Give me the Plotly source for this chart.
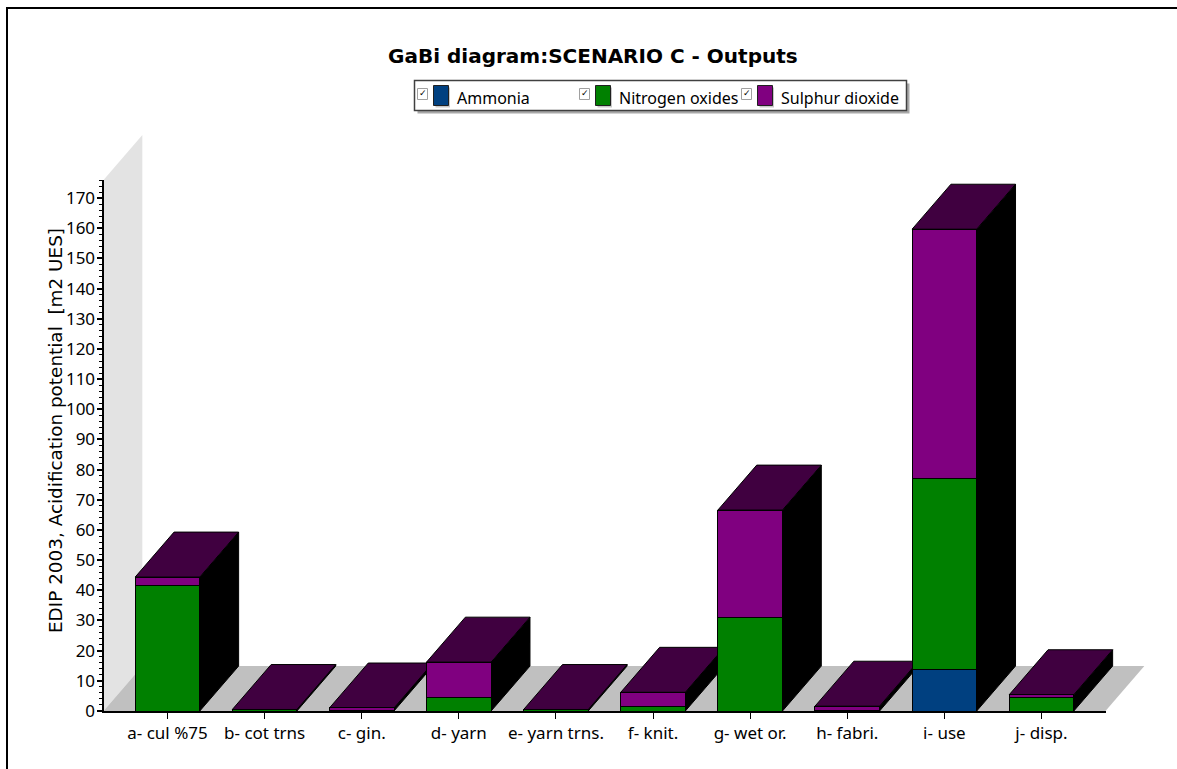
import plotly.graph_objects as go

# Stacked output contributions per life-cycle stage
categories = ["a- cul %75", "b- cot trns", "c- gin.", "d- yarn", "e- yarn trns.",
              "f- knit.", "g- wet or.", "h- fabri.", "i- use", "j- disp."]
ammonia = [0, 0, 0, 0, 0, 0, 0, 0, 13.6, 0]
nitrogen_oxides = [41.7, 0.4, 0.2, 4.6, 0.4, 1.5, 31.1, 0.2, 63.6, 4.5]
sulphur_dioxide = [2.7, 0.1, 0.8, 11.6, 0.1, 4.7, 35.5, 1.4, 82.5, 0.9]

series_names = ["Ammonia", "Nitrogen oxides", "Sulphur dioxide"]
series_colors = ["#004080", "#008000", "#800080"]
series_values = [ammonia, nitrogen_oxides, sulphur_dioxide]

W, H = 1177, 769
PLOT_L, PLOT_R, PLOT_T, PLOT_B = 103.5, 1105.5, 180.0, 711.0
Y_MAX = 176.0
X_MIN, X_MAX = -0.659, 9.659
BAR_WIDTH = 0.665
DEPTH_X = 0.40     # oblique depth along the category axis
DEPTH_Y = 14.9     # oblique depth along the value axis
TOP_COLOR = "#400040"
LABEL_FONT = "Noto Sans"

# The rear faces live on a larger hidden subplot with the same scale as the
# visible one, so the oblique box can run past the visible axis ends.
X_SCALE = (PLOT_R - PLOT_L) / (X_MAX - X_MIN)
Y_SCALE = (PLOT_B - PLOT_T) / Y_MAX
BACK_R, BACK_T = float(W), 100.0
BACK_X_MAX = X_MIN + (BACK_R - PLOT_L) / X_SCALE
BACK_Y_MAX = (PLOT_B - BACK_T) / Y_SCALE


def px(x):
    return x / W


def py(y):
    return 1 - y / H


def polygon(xs, ys, color, line_width=1.0, line_color="black"):
    return go.Scatter(
        x=xs + xs[:1], y=ys + ys[:1], mode="lines", fill="toself", fillcolor=color,
        line=dict(color=line_color, width=line_width), hoverinfo="skip",
        showlegend=False, xaxis="x", yaxis="y",
    )


fig = go.Figure()

# Back wall and floor of the oblique box
fig.add_trace(polygon([X_MIN, X_MIN + DEPTH_X, X_MIN + DEPTH_X, X_MIN],
                      [0, DEPTH_Y, Y_MAX + DEPTH_Y, Y_MAX], "#e3e3e3", 0, "#e3e3e3"))
fig.add_trace(polygon([X_MIN, X_MIN + DEPTH_X, X_MAX + DEPTH_X, X_MAX],
                      [0, DEPTH_Y, DEPTH_Y, 0], "#c0c0c0", 0, "#c0c0c0"))

# Side and top faces, left to right so nearer columns overlap earlier ones
for i in range(len(categories)):
    total = ammonia[i] + nitrogen_oxides[i] + sulphur_dioxide[i]
    right = i + BAR_WIDTH / 2
    left = i - BAR_WIDTH / 2
    fig.add_trace(polygon([right, right + DEPTH_X, right + DEPTH_X, right],
                          [0, DEPTH_Y, total + DEPTH_Y, total], "black"))
    fig.add_trace(polygon([left, left + DEPTH_X, right + DEPTH_X, right],
                          [total, total + DEPTH_Y, total + DEPTH_Y, total], TOP_COLOR))

# Front faces on the visible subplot, stacked above every side face
for name, color, values in zip(series_names, series_colors, series_values):
    fig.add_trace(go.Bar(
        x=list(range(len(categories))), y=values, name=name, width=BAR_WIDTH,
        marker=dict(color=color, line=dict(color="black", width=1)),
        xaxis="x2", yaxis="y2", showlegend=False,
    ))

# Legend box built from swatches, check boxes and labels
shapes = []
annotations = []
LEG_L, LEG_R, LEG_T, LEG_B = 414.5, 906.5, 80.5, 110.5


def paper_rect(x0, y0, x1, y1, fill, line=None, lw=1):
    shapes.append(dict(type="rect", xref="paper", yref="paper",
                       x0=px(x0), x1=px(x1), y0=py(y0), y1=py(y1), fillcolor=fill,
                       line=dict(color=line or fill, width=lw if line else 0), layer="above"))


paper_rect(LEG_L + 3, LEG_T + 3, LEG_R + 3, LEG_B + 3, "#a8a8a8")
paper_rect(LEG_L, LEG_T, LEG_R, LEG_B, "white", "#404040", 1.5)
for name, color, x_box in zip(series_names, series_colors, [417, 579, 741]):
    paper_rect(x_box + 0.5, 88.5, x_box + 10.5, 99.5, "white", "#a0a0a0", 1)
    annotations.append(dict(text="<b>✓</b>", x=px(x_box + 5.5), y=py(93.5), xref="paper", yref="paper",
                            showarrow=False, xanchor="center", yanchor="middle",
                            font=dict(size=9, color="black", family="DejaVu Sans")))
    paper_rect(x_box + 18.5, 87.5, x_box + 33, 107.5, "#c8c8c8")
    paper_rect(x_box + 16.5, 85.5, x_box + 31.5, 105.5, color, "#202020", 1)
    annotations.append(dict(text=name, x=px(x_box + 37.5), y=py(97.5), xref="paper", yref="paper",
                            showarrow=False, xanchor="left", yanchor="middle",
                            font=dict(size=16, color="black", family=LABEL_FONT)))

# Outer frame: left and top edges only
shapes.append(dict(type="line", xref="paper", yref="paper", x0=px(7), x1=px(7), y0=py(8), y1=0,
                   line=dict(color="black", width=2), layer="above"))
shapes.append(dict(type="line", xref="paper", yref="paper", x0=px(6), x1=1, y0=py(8), y1=py(8),
                   line=dict(color="black", width=2), layer="above"))

annotations.append(dict(text="GaBi diagram:SCENARIO C - Outputs", x=px(592.5), y=py(56),
                        xref="paper", yref="paper", showarrow=False,
                        xanchor="center", yanchor="middle",
                        font=dict(size=20, color="black", family="DejaVu Sans", weight="bold")))
annotations.append(dict(text="EDIP 2003, Acidification potential\u00a0 [m2 UES]", x=px(55), y=py(431),
                        xref="paper", yref="paper", showarrow=False, textangle=-90,
                        xanchor="center", yanchor="middle",
                        font=dict(size=18.4, color="black", family="DejaVu Sans")))

tick_font = dict(size=17, color="black", family=LABEL_FONT)

fig.update_layout(
    width=W, height=H, margin=dict(l=0, r=0, t=0, b=0, pad=0, autoexpand=False),
    paper_bgcolor="white", plot_bgcolor="rgba(0,0,0,0)", barmode="stack", showlegend=False,
    shapes=shapes, annotations=annotations,
    xaxis=dict(domain=[px(PLOT_L), px(BACK_R)], range=[X_MIN, BACK_X_MAX], visible=False,
               fixedrange=True, anchor="y"),
    yaxis=dict(domain=[py(PLOT_B), py(BACK_T)], range=[0, BACK_Y_MAX], visible=False,
               fixedrange=True, anchor="x"),
    xaxis2=dict(domain=[px(PLOT_L), px(PLOT_R)], range=[X_MIN, X_MAX], anchor="y2", side="bottom",
                tickmode="array", tickvals=list(range(len(categories))), ticktext=categories,
                ticks="outside", ticklen=6, tickwidth=1, tickcolor="black",
                showline=True, linecolor="black", linewidth=2, showgrid=False, zeroline=False,
                tickfont=tick_font, fixedrange=True),
    yaxis2=dict(domain=[py(PLOT_B), py(PLOT_T)], range=[0, Y_MAX], anchor="x2", side="left",
                tickmode="array", tickvals=list(range(0, 171, 10)),
                ticks="outside", ticklen=5, tickwidth=2, tickcolor="black", ticklabelstandoff=-2,
                minor=dict(dtick=2, ticks="outside", ticklen=3, tickwidth=1, tickcolor="black"),
                showline=True, linecolor="black", linewidth=2, showgrid=False, zeroline=False,
                tickfont=tick_font, fixedrange=True),
)

fig.write_html("out.html", config={"displayModeBar": False})
